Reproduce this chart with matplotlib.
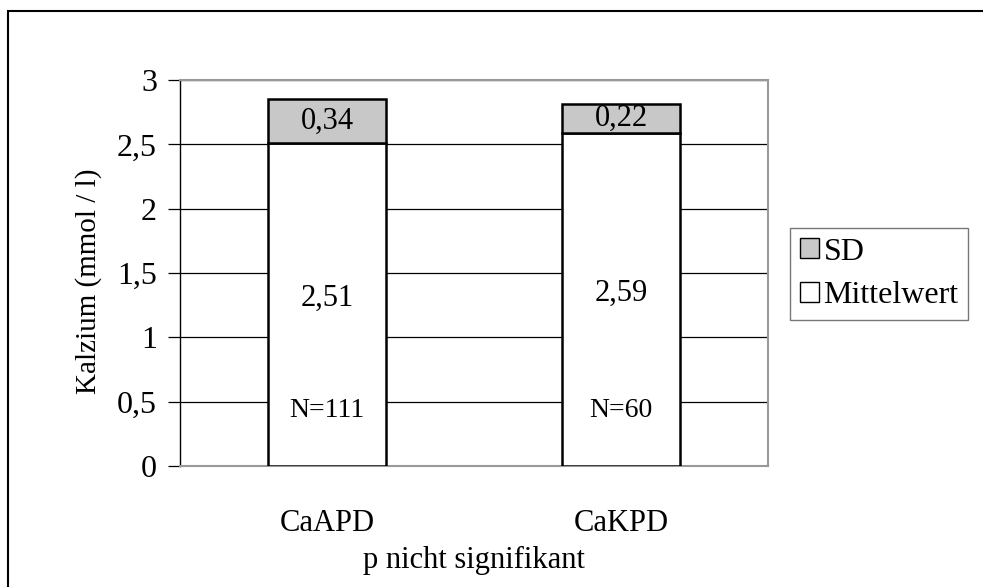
import matplotlib
matplotlib.use("Agg")
import matplotlib.pyplot as plt
from matplotlib.patches import Rectangle, Patch
import numpy as np

plt.rcParams["font.family"] = ["Liberation Serif", "DejaVu Serif"]

categories = ["CaAPD", "CaKPD"]
mittelwert = [2.51, 2.59]
sd = [0.34, 0.22]
n_labels = ["N=111", "N=60"]
y_ticks = [0, 0.5, 1, 1.5, 2, 2.5, 3]
y_tick_labels = ["0", "0,5", "1", "1,5", "2", "2,5", "3"]

W, H = 983, 587
fig = plt.figure(figsize=(W / 100, H / 100), dpi=100)

# outer chart border (only left/top visible, rest cut off)
fig.patches.append(Rectangle((8 / W, -0.1), 1.2, 1.1 - 11 / H,
                             transform=fig.transFigure, fill=False,
                             edgecolor="black", linewidth=1.5, zorder=0))

ax = fig.add_axes([180 / W, 1 - 466 / H, 588 / W, 386 / H])
x = np.arange(len(categories))

ax.bar(x, mittelwert, width=0.4, color="white", edgecolor="black",
       linewidth=1.8, zorder=3)
ax.bar(x, sd, width=0.4, bottom=mittelwert, color="#c8c8c8",
       edgecolor="black", linewidth=1.8, zorder=3)

for i in range(len(categories)):
    ax.text(x[i], mittelwert[i] + sd[i] / 2, f"{sd[i]:.2f}".replace(".", ","),
            ha="center", va="center", fontsize=22, zorder=4)
    ax.text(x[i], mittelwert[i] / 2 + 0.05, f"{mittelwert[i]:.2f}".replace(".", ","),
            ha="center", va="center", fontsize=22, zorder=4)
    ax.text(x[i], 0.43, n_labels[i], ha="center", va="center",
            fontsize=20, zorder=4)

ax.set_xlim(-0.5, 1.5)
ax.set_ylim(0, 3)
ax.set_yticks(y_ticks)
ax.set_yticklabels(y_tick_labels, fontsize=23)
ax.yaxis.grid(True, color="black", linewidth=0.9, zorder=1)
ax.tick_params(axis="y", length=9, width=0.9, pad=7.5)
ax.set_xticks(x)
ax.set_xticklabels(categories, fontsize=22)
ax.tick_params(axis="x", length=0, pad=31)
ax.set_xlabel("p nicht signifikant", fontsize=22, labelpad=5.5)
ax.set_ylabel("Kalzium (mmol / l)", fontsize=21)
ax.yaxis.set_label_coords(-0.132, 0.479)

for s in ["top", "right", "bottom"]:
    ax.spines[s].set_color("#999999")
    ax.spines[s].set_linewidth(1.5)
ax.spines["left"].set_color("black")
ax.spines["left"].set_linewidth(1.0)

handles = [Patch(facecolor="#c8c8c8", edgecolor="black", label="SD"),
           Patch(facecolor="white", edgecolor="black", label="Mittelwert")]
leg = fig.legend(handles=handles, loc="upper left",
                 bbox_to_anchor=(790 / W, 1 - 228 / H), fontsize=23,
                 frameon=True, fancybox=False, handlelength=0.6,
                 handleheight=0.6, handletextpad=0.15, borderpad=0.3,
                 labelspacing=0.45, borderaxespad=0)
leg.get_frame().set_edgecolor("#555555")
leg.get_frame().set_linewidth(1.0)

fig.savefig("out.png", dpi=100)
